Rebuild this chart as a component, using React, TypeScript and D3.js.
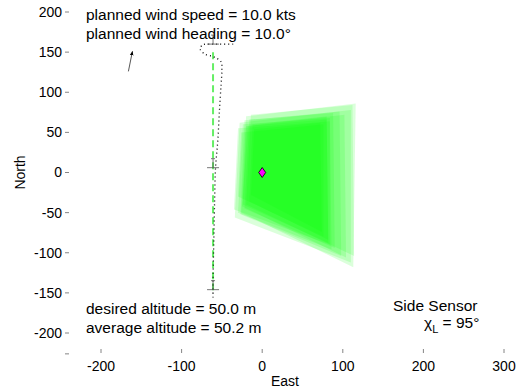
import React from 'react';
import * as d3 from 'd3';

// axis ticks
const xTicks = [-200, -100, 0, 100, 200, 300];
const yTicks = [200, 150, 100, 50, 0, -50, -100, -150, -200];
const yExtraTick = -226;

// planned path (green dashed) and flown path (dotted)
const plannedPath: [number, number][] = [[-61, 150], [-61, -148]];
const flownPath: [number, number][] = [
  [-36, 160], [-50, 160], [-62, 160], [-74, 159], [-77, 154], [-72, 148], [-60, 144],
  [-51, 138], [-50, 128], [-51, 110], [-53, 78], [-55, 41], [-58, 4], [-59, -34],
  [-60, -83], [-61, -133], [-61, -158],
];
// waypoint markers
const waypoints: [number, number][] = [[-61, 160], [-61, 6], [-61, -146]];
// wind arrow
const windFrom: [number, number] = [-166, 126];
const windTo: [number, number] = [-161, 151];
// sensor footprints (quads TL, TR, BR, BL)
const footprints: [number, number][][] = [
  [[-20, 70], [116, 86], [113, -118], [-26, -50]],
  [[-28, 62], [110, 78], [110, -112], [-34, -56]],
  [[-18, 58], [102, 72], [104, -106], [-25, -42]],
  [[-14, 72], [112, 84], [114, -104], [-20, -40]],
  [[-30, 55], [84, 64], [84, -90], [-35, -46]],
  [[-22, 65], [96, 76], [98, -104], [-27, -52]],
  [[-12, 60], [80, 70], [82, -84], [-16, -36]],
  [[-26, 50], [76, 60], [76, -80], [-30, -30]],
  [[-16, 66], [88, 74], [90, -94], [-22, -45]],
  [[-24, 60], [84, 68], [86, -96], [-30, -50]],
  [[-10, 54], [72, 62], [74, -74], [-14, -28]],
  [[-20, 58], [80, 66], [82, -88], [-24, -40]],
];
const target: [number, number] = [0, 0];

const W = 518;
const H = 391;
const font = '"Liberation Sans", Arial, sans-serif';

export default function App() {
  const x = d3.scaleLinear().domain([-200, 300]).range([101, 504]);
  const y = d3.scaleLinear().domain([-200, 200]).range([333, 12]);
  const line = d3.line<[number, number]>().x(d => x(d[0])).y(d => y(d[1]));
  const curved = d3.line<[number, number]>().x(d => x(d[0])).y(d => y(d[1])).curve(d3.curveCatmullRom);
  const tickX = 67;
  const tickY = 351;
  const tx = x(target[0]);
  const ty = y(target[1]);

  return (
    <svg width={W} height={H} style={{ position: 'absolute', left: 0, top: 0, background: '#fff' }}
      fontFamily={font}>
      <defs>
        <marker id="ah" viewBox="0 0 10 10" refX="9" refY="5" markerWidth="5" markerHeight="7" orient="auto">
          <path d="M0,1 L10,5 L0,9 z" fill="#000" />
        </marker>
      </defs>

      {/* footprints */}
      {footprints.map((q, i) => (
        <path key={i} d={line(q) + 'Z'} fill="#00ff00" fillOpacity={0.14} stroke="none" />
      ))}

      {/* planned path */}
      <path d={line(plannedPath) || ''} fill="none" stroke="#66ee66" strokeWidth={2} strokeDasharray="7,4" />
      {/* flown path */}
      <path d={curved(flownPath) || ''} fill="none" stroke="#000" strokeWidth={1.3} strokeDasharray="1,3" />

      {/* waypoints */}
      {waypoints.map((p, i) => {
        const px = x(p[0]);
        const py = y(p[1]);
        return (
          <g key={i} stroke="#555" strokeWidth={0.8}>
            <line x1={px - 6} x2={px + 6} y1={py} y2={py} />
            <line x1={px} x2={px} y1={py} y2={py - 9} />
            <line x1={px - 2} x2={px + 2} y1={py - 9} y2={py - 9} />
          </g>
        );
      })}

      {/* wind arrow */}
      <line x1={x(windFrom[0])} y1={y(windFrom[1])} x2={x(windTo[0])} y2={y(windTo[1])}
        stroke="#444" strokeWidth={0.9} markerEnd="url(#ah)" />

      {/* target */}
      <path d={`M${tx},${ty - 5} L${tx + 3.5},${ty} L${tx},${ty + 5} L${tx - 3.5},${ty} Z`}
        fill="#ff00ff" stroke="#000" strokeWidth={0.8} />

      {/* y axis */}
      {yTicks.map(t => (
        <g key={t}>
          <line x1={tickX - 2} x2={tickX + 2} y1={y(t)} y2={y(t)} stroke="#666" strokeWidth={0.8} />
          <text x={tickX - 5} y={y(t)} dy="0.35em" textAnchor="end" fontSize={14}>{t}</text>
        </g>
      ))}
      <line x1={tickX - 2} x2={tickX + 2} y1={y(yExtraTick)} y2={y(yExtraTick)} stroke="#666" strokeWidth={0.8} />

      {/* x axis */}
      {xTicks.map(t => (
        <g key={t}>
          <line x1={x(t)} x2={x(t)} y1={tickY - 2} y2={tickY + 2} stroke="#666" strokeWidth={0.8} />
          <text x={x(t)} y={tickY + 20} textAnchor="middle" fontSize={14}>{t}</text>
        </g>
      ))}

      <text x={285} y={386} textAnchor="middle" fontSize={14}>East</text>
      <text transform={`translate(25,${y(0)}) rotate(-90)`} textAnchor="middle" fontSize={14}>North</text>

      {/* annotations */}
      <text x={86} y={20} fontSize={15.5}>planned wind speed = 10.0 kts</text>
      <text x={86} y={39} fontSize={15.5}>planned wind heading = 10.0°</text>
      <text x={86} y={314} fontSize={15.5}>desired altitude = 50.0 m</text>
      <text x={86} y={333} fontSize={15.5}>average altitude = 50.2 m</text>
      <text x={393} y={311} fontSize={15.5}>Side Sensor</text>
      <text x={424} y={328} fontSize={15.5}>
        χ<tspan fontSize={11} dy={5}>L</tspan><tspan dy={-5}> = 95°</tspan>
      </text>
    </svg>
  );
}
